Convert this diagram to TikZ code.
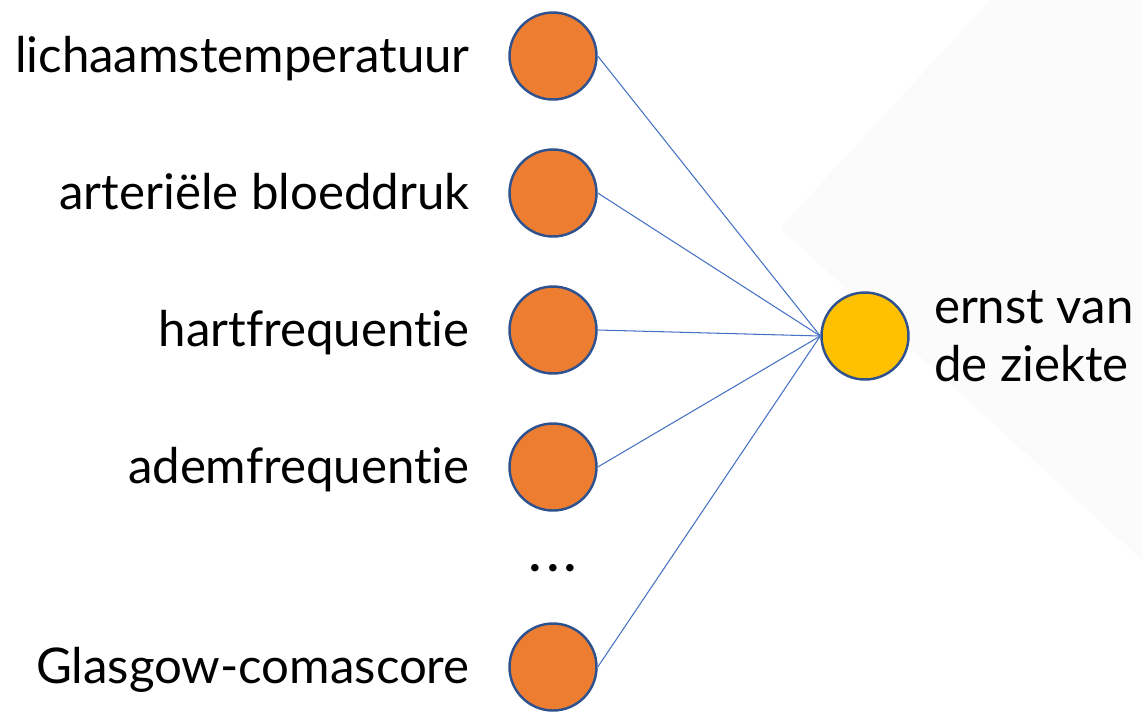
\documentclass[tikz,border=0pt]{standalone}
\usepackage{fontspec}
\setmainfont{Lato}[Ligatures=NoCommon]
\usetikzlibrary{positioning}
\begin{document}
\begin{tikzpicture}[x=0.02cm, y=-0.02cm,
  invoer/.style={circle, draw=MyBlue, line width=1.4pt, fill=MyOrange, minimum size=1.74cm, inner sep=0},
  uitvoer/.style={invoer, fill=MyYellow},
  tekst/.style={inner sep=0, font=\fontsize{28}{33}\selectfont},
  verbinding/.style={MyLine, line width=0.6pt}]
\definecolor{MyOrange}{RGB}{237,125,49}
\definecolor{MyYellow}{RGB}{255,192,0}
\definecolor{MyBlue}{RGB}{47,82,143}
\definecolor{MyLine}{RGB}{68,114,196}
\definecolor{MyGrey}{RGB}{251,251,251}
\useasboundingbox (0,0) rectangle (1142,711);
\fill[MyGrey] (990,0) -- (780,228) -- (1142,560) -- (1142,0) -- cycle;
\foreach \i/\y/\naam in {1/56/lichaamstemperatuur, 2/193/arteriële bloeddruk, 3/330/hartfrequentie, 4/467/ademfrequentie, 5/667/Glasgow-comascore}{
\node[invoer] (in\i) at (553,\y) {};
\node[tekst, anchor=base east] (txt\i) at (470,\y+16) {\naam};
}
\node[tekst, font=\fontsize{28}{33}\selectfont\bfseries] (dots) at (553,568) {.\hspace{0.12em}.\hspace{0.12em}.};
\node[uitvoer] (uit) at (865,336) {};
\node[tekst, align=left, right=0.48cm of uit] (ernst) {ernst van\\de ziekte};
\foreach \i in {1,...,5}{
\draw[verbinding] (in\i.east) -- (uit.west);
}
\end{tikzpicture}
\end{document}
